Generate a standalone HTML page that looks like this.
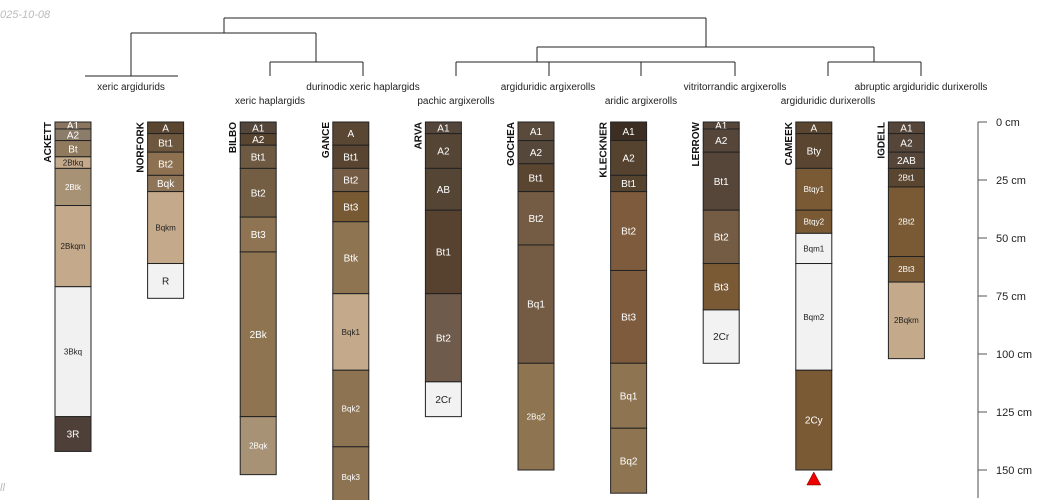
<!DOCTYPE html>
<html><head><meta charset="utf-8"><style>
html,body{margin:0;padding:0;background:#fff;}
svg{display:block;font-family:"Liberation Sans",sans-serif;}
</style></head><body>
<svg id="chart" width="1050" height="500" viewBox="0 0 1050 500" xmlns="http://www.w3.org/2000/svg">
<text x="0" y="18" font-size="11" font-style="italic" fill="#bbb">025-10-08</text>
<text x="0" y="491" font-size="11" font-style="italic" fill="#bbb">ll</text>
<g id="dendro" stroke="#222" stroke-width="1" fill="none"></g>
<g id="tax" font-size="10" fill="#222" text-anchor="middle"></g>
<g id="profiles"></g>
<g id="axis"></g>
</svg>
<script>
const profileNames = ["ACKETT","NORFORK","BILBO","GANCE","ARVA","GOCHEA","KLECKNER","LERROW","CAMEEK","IGDELL"];
const horizonNames = [
 ["A1","A2","Bt","2Btkq","2Btk","2Bkqm","3Bkq","3R"],
 ["A","Bt1","Bt2","Bqk","Bqkm","R"],
 ["A1","A2","Bt1","Bt2","Bt3","2Bk","2Bqk"],
 ["A","Bt1","Bt2","Bt3","Btk","Bqk1","Bqk2","Bqk3"],
 ["A1","A2","AB","Bt1","Bt2","2Cr"],
 ["A1","A2","Bt1","Bt2","Bq1","2Bq2"],
 ["A1","A2","Bt1","Bt2","Bt3","Bq1","Bq2"],
 ["A1","A2","Bt1","Bt2","Bt3","2Cr"],
 ["A","Bty","Btqy1","Btqy2","Bqm1","Bqm2","2Cy"],
 ["A1","A2","2AB","2Bt1","2Bt2","2Bt3","2Bqkm"]
];
const horizonDepths = [
 [0,3,8,15,20,36,71,127,142],
 [0,5,13,23,30,61,76],
 [0,5,10,20,41,56,127,152],
 [0,10,20,30,43,74,107,140,166],
 [0,5,20,38,74,112,127],
 [0,8,18,30,53,104,150],
 [0,8,23,30,64,104,132,160],
 [0,3,13,38,61,81,104],
 [0,5,20,38,48,61,107,150],
 [0,5,13,20,28,58,69,102]
];
const horizonColors = [
 ["#8a7560","#8c7c6a","#8f7a5d","#c4a98a","#a89276","#c4aa8b","#f1f1f1","#4e4038"],
 ["#5a4530","#6e573f","#8e7150","#8e7558","#c4aa8b","#f2f2f2"],
 ["#54463a","#5a4530","#6e5a43","#735e44","#8e7452","#8e7450","#a89276"],
 ["#5a4733","#584430","#735c43","#775a34","#8e7450","#c4aa8b","#8e7352","#8e7352"],
 ["#54463a","#554535","#554535","#56422e","#6e5b4b","#f2f2f2"],
 ["#5a4a3c","#55483a","#5a4530","#735c43","#735c43","#8e7450"],
 ["#3c2e22","#55432f","#55432f","#7d5b3c","#7d5b3c","#8e7450","#8e7450"],
 ["#56463a","#56463a","#56463a","#735c43","#7a5a35","#f2f2f2"],
 ["#5a4530","#5a4530","#7a5a35","#7a5a35","#f2f2f2","#f2f2f2","#7a5a35"],
 ["#56463a","#56463a","#56463a","#5a4530","#7a5a35","#7a5a35","#c4aa8b"]
];
const taxLabels = ["xeric argidurids","xeric haplargids","durinodic xeric haplargids","pachic argixerolls","argiduridic argixerolls","aridic argixerolls","vitritorrandic argixerolls","argiduridic durixerolls","abruptic argiduridic durixerolls"];
const taxRow = [0,1,0,1,0,1,0,1,0];
const taxCenters = [131,270,363,456,548,641,735,828,921];
const depthTicks = [0,25,50,75,100,125,150];

const NS="http://www.w3.org/2000/svg";
function mk(tag,attrs,parent){const e=document.createElementNS(NS,tag);for(const k in attrs)e.setAttribute(k,attrs[k]);parent.appendChild(e);return e;}
const y0=122, pxcm=2.32;
const yScale=d=>y0+d*pxcm;
const xScale=i=>55+i*92.6;
const W=36;
function isLight(c){const r=parseInt(c.substr(1,2),16),g=parseInt(c.substr(3,2),16),b=parseInt(c.substr(5,2),16);return (r*0.3+g*0.59+b*0.11)>160;}

// dendrogram
const dendro=document.getElementById('dendro');
const segs=[[224,18,706,18],[224,18,224,33],[706,18,706,47],
 [131,33,316,33],[131,33,131,76],[85,76,178,76],[316,33,316,62],[270,62,363,62],[270,62,270,76],[363,62,363,76],
 [537,47,874,47],[537,47,537,62],[456,62,735,62],[456,62,456,76],[549,62,549,76],[641,62,641,76],[735,62,735,76],
 [874,47,874,62],[828,62,921,62],[828,62,828,76],[921,62,921,76]];
segs.forEach(s=>{const l=mk('line',{x1:s[0],y1:s[1],x2:s[2],y2:s[3]},dendro);

});

const tax=document.getElementById('tax');
taxLabels.forEach((t,i)=>{const e=mk('text',{x:taxCenters[i],y:taxRow[i]?104:90},tax);e.textContent=t;

});

// profiles
const pg=document.getElementById('profiles');
profileNames.forEach((nm,i)=>{
 const g=mk('g',{},pg);
 
 
 const x=xScale(i), d=horizonDepths[i];
 horizonNames[i].forEach((h,j)=>{
  const ya=yScale(d[j]), yb=yScale(d[j+1]);
  const r=mk('rect',{x:x,y:ya,width:W,height:yb-ya,fill:horizonColors[i][j],stroke:'#222','stroke-width':1},g);
  
  
  const fs=(h.length<=3)?10:8;
  const t=mk('text',{x:x+W/2,y:(ya+yb)/2+fs*0.36,'font-size':fs,'text-anchor':'middle',fill:isLight(horizonColors[i][j])?'#222':'#fff'},g);
  t.textContent=h;
  
  
 });
 const t=mk('text',{transform:`translate(${x-4},${y0}) rotate(-90)`,'font-size':10,'font-weight':'bold','text-anchor':'end',fill:'#111'},g);
 t.textContent=nm;
 
 
 if(nm==='CAMEEK'){const yb=yScale(d[d.length-1]);
  const p=mk('polygon',{points:`${x+W/2},${yb+2} ${x+W/2-7},${yb+15} ${x+W/2+7},${yb+15}`,fill:'#e00',stroke:'#600','stroke-width':0.5},g);
  
  }
});

// axis
const ax=document.getElementById('axis');
const al=mk('line',{x1:978,y1:y0,x2:978,y2:498,stroke:'#888','stroke-width':1.5},ax);


depthTicks.forEach(v=>{const y=yScale(v);
 const l=mk('line',{x1:978,y1:y,x2:987,y2:y,stroke:'#555','stroke-width':1},ax);
 
 
 const t=mk('text',{x:996,y:y+4,'font-size':11,fill:'#222'},ax);t.textContent=v+' cm';
 
 });
</script>
</body></html>
